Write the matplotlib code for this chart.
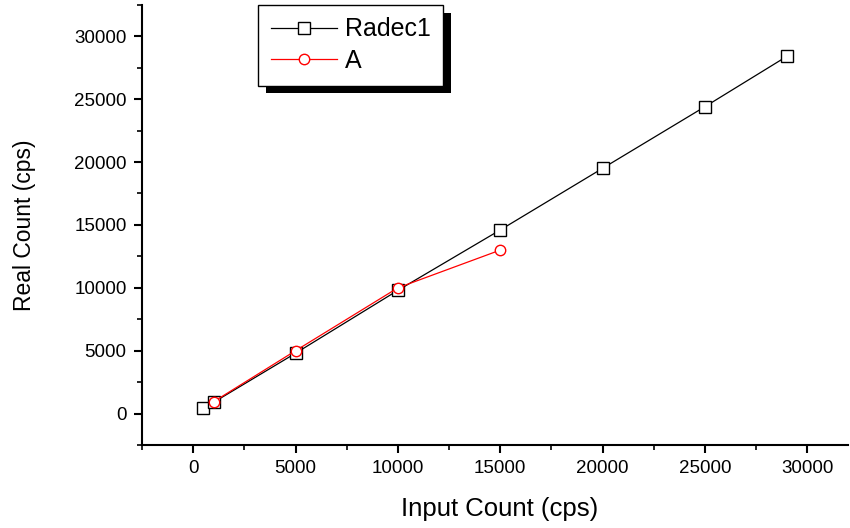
import matplotlib
matplotlib.use('Agg')
import matplotlib.pyplot as plt
from matplotlib.patches import Rectangle
from matplotlib.ticker import MultipleLocator

plt.rcParams['font.family'] = ['Liberation Sans', 'DejaVu Sans']

radec_x = [500, 1000, 5000, 10000, 15000, 20000, 25000, 29000]
radec_y = [420, 900, 4800, 9800, 14600, 19500, 24400, 28400]
a_x = [1000, 5000, 10000, 15000]
a_y = [950, 5000, 10000, 13000]

fig = plt.figure(figsize=(8.5, 5.28), dpi=100)
ax = fig.add_axes([0.167, 0.157, 0.831, 0.834])

ax.plot(radec_x, radec_y, color='black', lw=0.9, marker='s', ms=8,
        mfc='white', mec='black', mew=1.0, label='Radec1')
ax.plot(a_x, a_y, color='red', lw=0.9, marker='o', ms=7.5,
        mfc='white', mec='red', mew=1.0, label='A')

ax.set_xlim(-2500, 32000)
ax.set_ylim(-2500, 32500)
ax.xaxis.set_minor_locator(MultipleLocator(2500))
ax.yaxis.set_minor_locator(MultipleLocator(2500))
ax.set_xticks(range(0, 30001, 5000))
ax.set_yticks(range(0, 30001, 5000))

for side in ['top', 'right']:
    ax.spines[side].set_visible(False)
for side in ['left', 'bottom']:
    ax.spines[side].set_linewidth(1.5)
ax.tick_params(which='major', direction='out', length=6, width=1.5,
               labelsize=13.5, pad=5)
ax.tick_params(which='minor', direction='out', length=3.5, width=1.2)

ax.set_xlabel('Input Count (cps)', fontsize=18.5)
ax.set_ylabel('Real Count (cps)', fontsize=16.5)
ax.xaxis.set_label_coords(0.507, -0.118)
ax.yaxis.set_label_coords(-0.15, 0.5)

leg = ax.legend(loc='upper left', bbox_to_anchor=(258 / 850, 1 - 5 / 528),
                bbox_transform=fig.transFigure, fontsize=18, frameon=True,
                fancybox=False, edgecolor='black', framealpha=1,
                handlelength=2.65, handletextpad=0.32, borderpad=0.5,
                labelspacing=0.3, borderaxespad=0)
leg.get_frame().set_linewidth(1.0)
leg.set_zorder(5)

# drop shadow behind the legend box
fig.canvas.draw()
bb = leg.get_window_extent().transformed(fig.transFigure.inverted())
dx, dy = 8 / 850, 8 / 528
shadow = Rectangle((bb.x0 + dx, bb.y0 - dy), bb.width, bb.height,
                   transform=fig.transFigure, facecolor='black',
                   edgecolor='none', zorder=4, clip_on=False)
ax.add_patch(shadow)

fig.savefig('out.png', dpi=100)
